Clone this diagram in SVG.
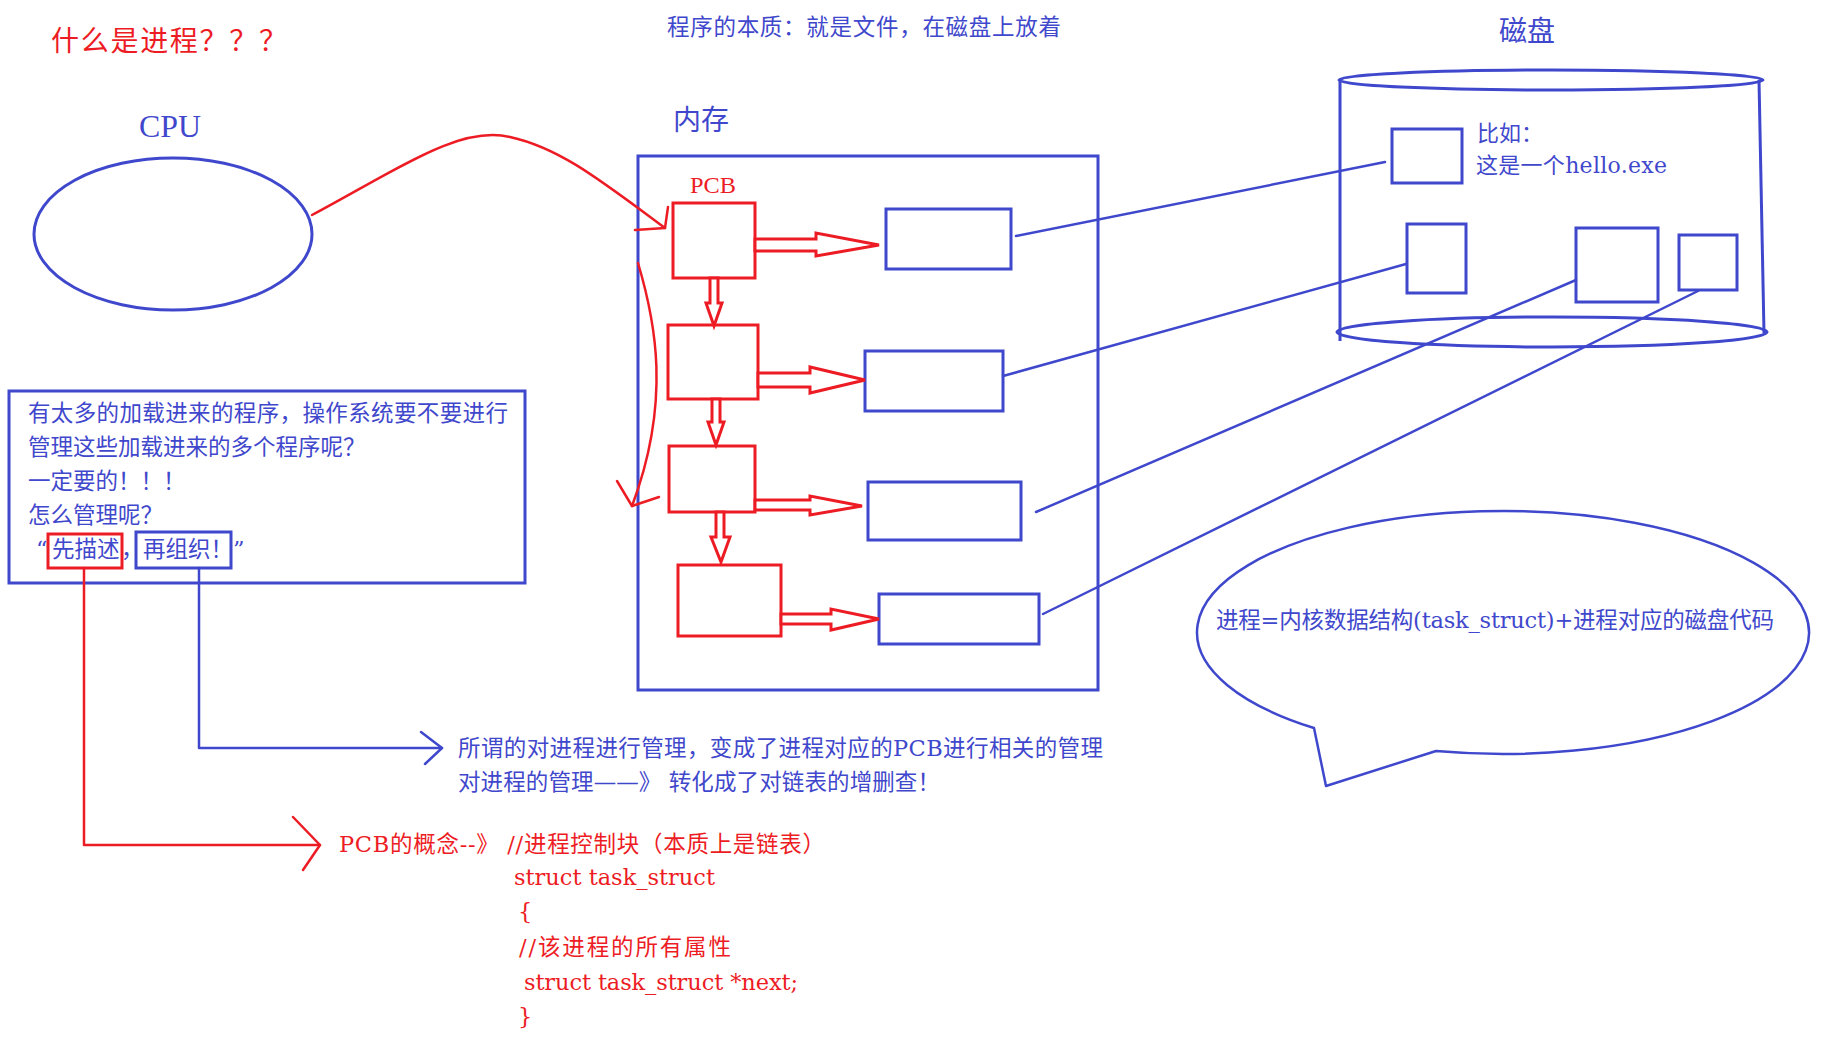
<svg xmlns="http://www.w3.org/2000/svg" width="1845" height="1044" viewBox="0 0 1845 1044">
<style>
.r{fill:none;stroke:#ED1C24;stroke-width:3}
.b{fill:none;stroke:#3F48CC;stroke-width:3}
.rl{fill:none;stroke:#ED1C24;stroke-width:2.5;stroke-linecap:round;stroke-linejoin:round}
.bl{fill:none;stroke:#3F48CC;stroke-width:2.5;stroke-linecap:round;stroke-linejoin:round}
.ha{fill:#fff;stroke:#ED1C24;stroke-width:3;stroke-linejoin:miter}
text{font-family:"DejaVu Serif","Noto Sans CJK SC",serif;font-size:22.5px}
.tr{fill:#ED1C24}
.tb{fill:#3F48CC}
</style>
<rect width="1845" height="1044" fill="#fff"/>

<g id="title"><text class="tr" x="51" y="51" style="font-size:28px" textLength="236" lengthAdjust="spacing">什么是进程？？？</text></g>
<g id="program-essence"><text class="tb" x="667" y="35" textLength="394" lengthAdjust="spacing">程序的本质：就是文件，在磁盘上放着</text></g>

<g id="cpu">
<ellipse class="b" cx="173" cy="234" rx="139" ry="76"/>
<text class="tb" x="139" y="137" style="font-family:'Liberation Serif',serif;font-size:31px" textLength="62" lengthAdjust="spacingAndGlyphs">CPU</text>
</g>

<g id="memory">
<rect class="b" x="638" y="156" width="460" height="534"/>
<text class="tb" x="673" y="130" style="font-size:28px">内存</text>
</g>

<g id="pcb1"><rect class="r" x="673" y="203" width="82" height="75"/><text class="tr" x="690" y="193" style="font-family:'Liberation Serif',serif;font-size:23px" textLength="46" lengthAdjust="spacingAndGlyphs">PCB</text></g>
<g id="pcb2"><rect class="r" x="668" y="325" width="90" height="74"/></g>
<g id="pcb3"><rect class="r" x="669" y="446" width="86" height="66"/></g>
<g id="pcb4"><rect class="r" x="678" y="565" width="103" height="71"/></g>

<g id="data1"><rect class="b" x="886" y="209" width="125" height="60"/></g>
<g id="data2"><rect class="b" x="865" y="351" width="138" height="60"/></g>
<g id="data3"><rect class="b" x="868" y="482" width="153" height="58"/></g>
<g id="data4"><rect class="b" x="879" y="594" width="160" height="50"/></g>

<g id="disk">
<text class="tb" x="1499" y="41" style="font-size:28px">磁盘</text>
<ellipse class="b" cx="1551" cy="80" rx="212" ry="10"/>
<line class="b" x1="1340" y1="80" x2="1340" y2="341"/>
<line class="b" x1="1759" y1="80" x2="1764" y2="333"/>
<ellipse class="b" cx="1552" cy="332" rx="215" ry="15"/>
</g>
<g id="file-a"><rect class="b" x="1392" y="129" width="70" height="54"/>
<text class="tb" x="1477" y="141" style="font-size:22px">比如：</text>
<text class="tb" x="1476" y="173" style="font-size:22px" textLength="191" lengthAdjust="spacing">这是一个hello.exe</text></g>
<g id="file-b"><rect class="b" x="1407" y="224" width="59" height="69"/></g>
<g id="file-c"><rect class="b" x="1576" y="228" width="82" height="74"/></g>
<g id="file-d"><rect class="b" x="1679" y="235" width="58" height="55"/></g>

<g id="note">
<rect class="b" x="9" y="391" width="516" height="192"/>
<text class="tb" x="28" y="421" textLength="480" lengthAdjust="spacing">有太多的加载进来的程序，操作系统要不要进行</text>
<text class="tb" x="28" y="455">管理这些加载进来的多个程序呢？</text>
<text class="tb" x="28" y="489">一定要的！！！</text>
<text class="tb" x="28" y="523">怎么管理呢？</text>
<text class="tb" y="557"><tspan x="36">“</tspan><tspan x="52">先描述</tspan><tspan x="121">，</tspan><tspan x="143">再组织！</tspan><tspan x="233">”</tspan></text>
<rect class="r" x="48" y="534" width="74" height="34"/>
<rect class="b" x="136" y="532" width="95" height="36"/>
</g>

<g id="bubble">
<path class="bl" d="M1436,751 A306,121.5 0 1 0 1314,728 L1326,786 Z"/>
<text class="tb" x="1216" y="628" textLength="558" lengthAdjust="spacing">进程=内核数据结构(task_struct)+进程对应的磁盘代码</text>
</g>

<g id="management-text">
<text class="tb" x="458" y="756" textLength="645" lengthAdjust="spacing">所谓的对进程进行管理，变成了进程对应的PCB进行相关的管理</text>
<text class="tb" x="458" y="790" textLength="482" lengthAdjust="spacing">对进程的管理——》 转化成了对链表的增删查！</text>
</g>

<g id="pcb-concept">
<text class="tr" x="339" y="852" textLength="486" lengthAdjust="spacing">PCB的概念--》 //进程控制块（本质上是链表）</text>
<text class="tr" x="514" y="885" textLength="201" lengthAdjust="spacing">struct task_struct</text>
<text class="tr" x="518" y="919">{</text>
<text class="tr" x="519" y="955" textLength="212" lengthAdjust="spacing">//该进程的所有属性</text>
<text class="tr" x="524" y="990" textLength="274" lengthAdjust="spacing">struct task_struct *next;</text>
<text class="tr" x="518" y="1024">}</text>
</g>

<g id="connectors">
<path class="rl" d="M312,215 C400,168 460,125 510,137 C560,148 600,180 665,228"/>
<polyline class="rl" points="668,207 665,228 635,230"/>
<path class="rl" d="M638,263 C655,320 672,400 632,506"/>
<polyline class="rl" points="617,481 632,506 659,497"/>

<polygon class="ha" points="755,239 816,239 816,233 879,245 816,256 816,251 755,251"/>
<polygon class="ha" points="758,373 810,373 810,367 865,380 810,393 810,387 758,387"/>
<polygon class="ha" points="755,500 810,500 810,496 862,506 810,515 810,510 755,510"/>
<polygon class="ha" points="781,614 831,614 831,609 879,619 831,630 831,624 781,624"/>

<polygon class="ha" points="710,278 718,278 718,303 722,303 714,326 706,303 710,303"/>
<polygon class="ha" points="712,399 720,399 720,422 724,422 716,445 708,422 712,422"/>
<polygon class="ha" points="716,512 724,512 724,537 730,537 721,562 711,537 716,537"/>

<line class="bl" x1="1016" y1="236" x2="1385" y2="162"/>
<line class="bl" x1="1003" y1="376" x2="1406" y2="264"/>
<line class="bl" x1="1036" y1="512" x2="1576" y2="280"/>
<line class="bl" x1="1043" y1="614" x2="1698" y2="291"/>

<polyline class="rl" points="84,568 84,845 320,845"/>
<polyline class="rl" points="293,817 320,845 303,870"/>
<polyline class="bl" points="199,568 199,748 442,748"/>
<polyline class="bl" points="421,732 442,748 425,764"/>
</g>
</svg>
